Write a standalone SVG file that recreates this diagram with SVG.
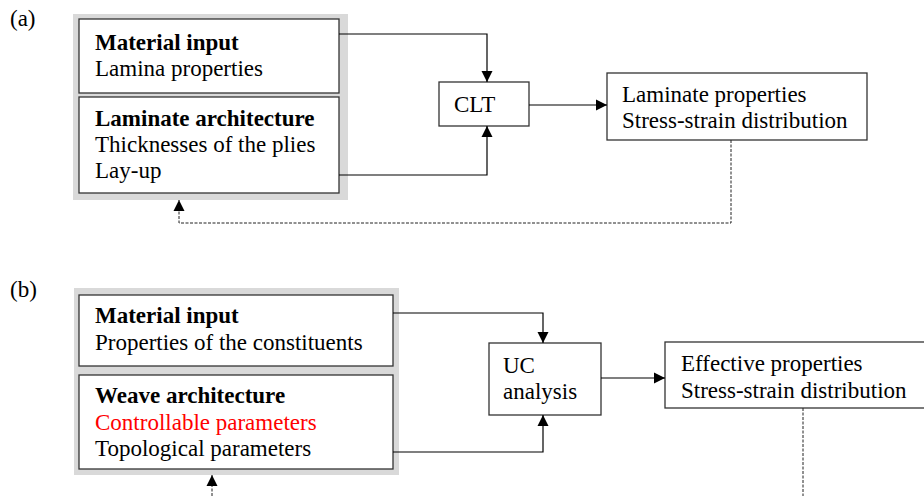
<svg xmlns="http://www.w3.org/2000/svg" width="924" height="496" viewBox="0 0 924 496">
<defs>
<marker id="ah" markerWidth="12" markerHeight="12" refX="11" refY="6" orient="auto" markerUnits="userSpaceOnUse"><path d="M0,0.5 L11,6 L0,11.5 Z" fill="#000"/></marker>
<style>
text{font-family:"Liberation Serif","Times New Roman",serif;font-size:23px;fill:#000}
.b{font-weight:bold}
.red{fill:#ff0000}
.frame{fill:#d9d9d9;stroke:none}
.box{fill:#fff;stroke:#333;stroke-width:1.3}
.ln{fill:none;stroke:#000;stroke-width:1.2}
.dash{fill:none;stroke:#222;stroke-width:1;stroke-dasharray:3,1.5}
</style>
</defs>
<rect width="924" height="496" fill="#fff"/>
<text x="10" y="26">(a)</text>
<text x="10" y="297">(b)</text>
<g id="frameA"><rect class="frame" x="73" y="14" width="275" height="186"/></g>
<g id="matA"><rect class="box" x="79" y="19" width="260" height="74"/><text class="b" x="95" y="50">Material input</text><text x="95" y="76">Lamina properties</text></g>
<g id="lamA"><rect class="box" x="79" y="97" width="260" height="96"/><text class="b" x="95" y="126">Laminate architecture</text><text x="95" y="152">Thicknesses of the plies</text><text x="95" y="178">Lay-up</text></g>
<g id="clt"><rect class="box" x="439" y="82" width="90" height="44"/><text x="454" y="112">CLT</text></g>
<g id="lamProps"><rect class="box" x="607" y="73" width="260" height="67"/><text x="622" y="102">Laminate properties</text><text x="622" y="128">Stress-strain distribution</text></g>
<g id="frameB"><rect class="frame" x="74" y="288" width="325" height="187"/></g>
<g id="matB"><rect class="box" x="79" y="295" width="314" height="71"/><text class="b" x="95" y="323">Material input</text><text x="95" y="350">Properties of the constituents</text></g>
<g id="weave"><rect class="box" x="79" y="375" width="314" height="94"/><text class="b" x="95" y="403">Weave architecture</text><text class="red" x="95" y="430">Controllable parameters</text><text x="95" y="456">Topological parameters</text></g>
<g id="uc"><rect class="box" x="489" y="343" width="112" height="72"/><text x="503" y="373">UC</text><text x="503" y="399">analysis</text></g>
<g id="eff"><rect class="box" x="665" y="342" width="270" height="66"/><text x="681" y="371">Effective properties</text><text x="681" y="398">Stress-strain distribution</text></g>
<g id="connectors">
<path class="ln" d="M339,34 H487 V82" marker-end="url(#ah)"/>
<path class="ln" d="M339,175 H487 V126" marker-end="url(#ah)"/>
<path class="ln" d="M529,105 H607" marker-end="url(#ah)"/>
<path class="dash" d="M731,140 V223 H179 V200" marker-end="url(#ah)"/>
<path class="ln" d="M393,313 H543 V343" marker-end="url(#ah)"/>
<path class="ln" d="M393,452 H543 V415" marker-end="url(#ah)"/>
<path class="ln" d="M601,378 H665" marker-end="url(#ah)"/>
<path class="dash" d="M803,408 V496"/>
<path class="dash" d="M212,496 V475" marker-end="url(#ah)"/>
</g>
</svg>
